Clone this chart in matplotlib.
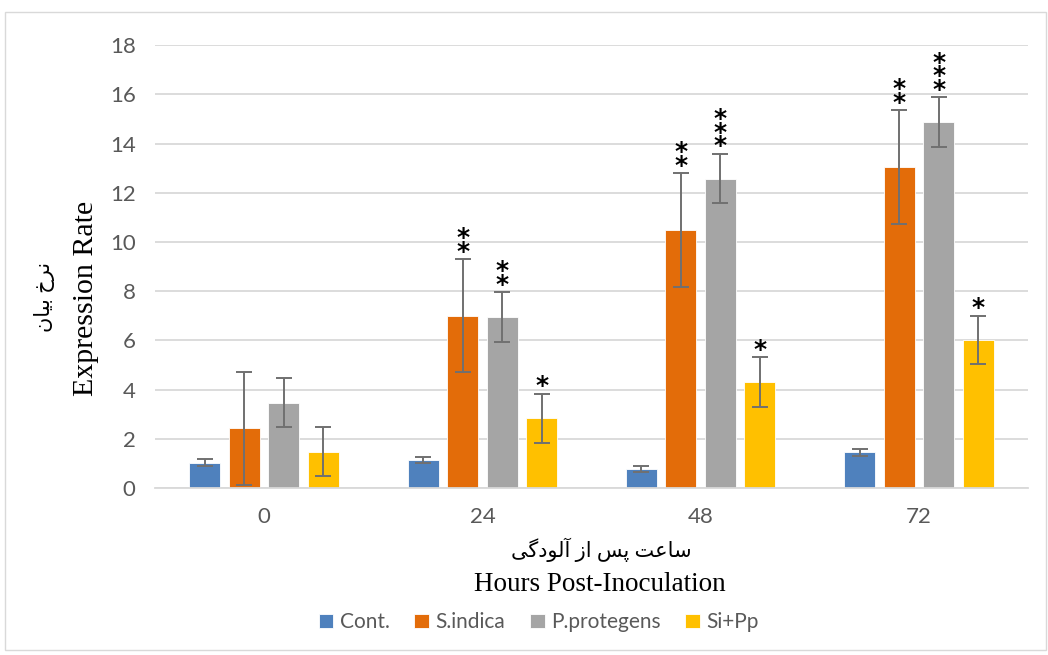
import matplotlib.pyplot as plt
from matplotlib.patches import Rectangle
import numpy as np

# Expression rate per treatment at each sampling time (hours post-inoculation)
hours = ['0', '24', '48', '72']
series_names = ['Cont.', 'S.indica', 'P.protegens', 'Si+Pp']
cont = [1.03, 1.14, 0.78, 1.45]
s_indica = [2.42, 7.0, 10.49, 13.05]
p_protegens = [3.46, 6.95, 12.58, 14.88]
si_pp = [1.47, 2.83, 4.31, 6.02]
cont_err = [0.14, 0.13, 0.13, 0.13]
s_indica_err = [2.3, 2.3, 2.3, 2.3]
p_protegens_err = [1.0, 1.0, 1.0, 1.0]
si_pp_err = [1.0, 1.0, 1.0, 0.97]
# significance stars per series and time point
cont_sig = ['', '', '', '']
s_indica_sig = ['', '**', '**', '**']
p_protegens_sig = ['', '**', '***', '***']
si_pp_sig = ['', '*', '*', '*']

colors = ['#4F81BD', '#E36C09', '#A5A5A5', '#FFC000']

# Persian labels, written in display order with contextual glyph forms
fa_ylabel = '\uFEE5\uFE8E\uFEF4\uFE91 \uFEA5\uFEAE\uFEE7'
fa_xlabel = ('\uFEF0\uFB94\uFEA9\uFEEE\uFEDF\uFE81 \uFEAF\uFE8D '
             '\uFEB2\uFB58 \uFE96\uFECB\uFE8E\uFEB3')

values = [cont, s_indica, p_protegens, si_pp]
errors = [cont_err, s_indica_err, p_protegens_err, si_pp_err]
stars = [cont_sig, s_indica_sig, p_protegens_sig, si_pp_sig]

fig = plt.figure(figsize=(10.48, 6.55), dpi=100)
ax = fig.add_axes([0.148, 0.255, 0.833, 0.676])

x = np.arange(len(hours))
width = 0.142
step = 0.181
tick_font = 'Lato'
serif = ['Liberation Serif', 'DejaVu Sans']

for i, (vals, errs, sig) in enumerate(zip(values, errors, stars)):
    pos = x + (i - 1.5) * step
    ax.bar(pos, vals, width, color=colors[i], edgecolor='white', linewidth=0.6,
           label=series_names[i], zorder=2)
    ax.errorbar(pos, vals, yerr=errs, fmt='none', ecolor='#707070',
                elinewidth=1.4, capsize=6, capthick=1.4, zorder=3)
    for p, v, e, s in zip(pos, vals, errs, sig):
        if s:
            ax.text(p, v + e - 0.18, '\n'.join(s), ha='center', va='bottom',
                    fontsize=18, family='DejaVu Sans', fontweight='bold',
                    linespacing=0.45, color='black', zorder=4)

ax.set_ylim(0, 18)
ax.set_xlim(-0.5, 3.5)
ax.set_yticks(np.arange(0, 19, 2))
ax.set_xticks(x)
ax.set_xticklabels(hours)
ax.yaxis.grid(True, color='#D9D9D9', linewidth=1.3, zorder=0)
ax.set_axisbelow(True)
ax.tick_params(axis='both', length=0, labelsize=16, labelcolor='#595959')
ax.tick_params(axis='y', pad=14)
ax.tick_params(axis='x', pad=14)
for lbl in ax.get_xticklabels() + ax.get_yticklabels():
    lbl.set_family(tick_font)
for side in ['top', 'left', 'right']:
    ax.spines[side].set_visible(False)
ax.spines['bottom'].set_color('#D9D9D9')
ax.spines['bottom'].set_linewidth(1.3)

# two-language axis titles
fig.text(0.042, 0.547, fa_ylabel, rotation=90, ha='center', va='center',
         family=serif, fontsize=15)
fig.text(0.082, 0.545, 'Expression Rate', rotation=90, ha='center',
         va='center', family=serif, fontsize=21.5)
fig.text(0.574, 0.161, fa_xlabel, ha='center', va='center',
         family=serif, fontsize=15)
fig.text(0.572, 0.107, 'Hours Post-Inoculation', ha='center', va='center',
         family=serif, fontsize=19.5)

leg = fig.legend(loc='center', bbox_to_anchor=(0.514, 0.05), ncol=4,
                 frameon=False, handlelength=0.7, handleheight=0.7,
                 handletextpad=0.3, columnspacing=1.2,
                 prop={'family': tick_font, 'size': 15})
for t in leg.get_texts():
    t.set_color('#595959')

# light frame around the whole chart
fig.patches.append(Rectangle((0.005, 0.008), 0.993, 0.973,
                             transform=fig.transFigure, fill=False,
                             edgecolor='#D9D9D9', linewidth=1.0))

fig.savefig('out.png', dpi=100)
